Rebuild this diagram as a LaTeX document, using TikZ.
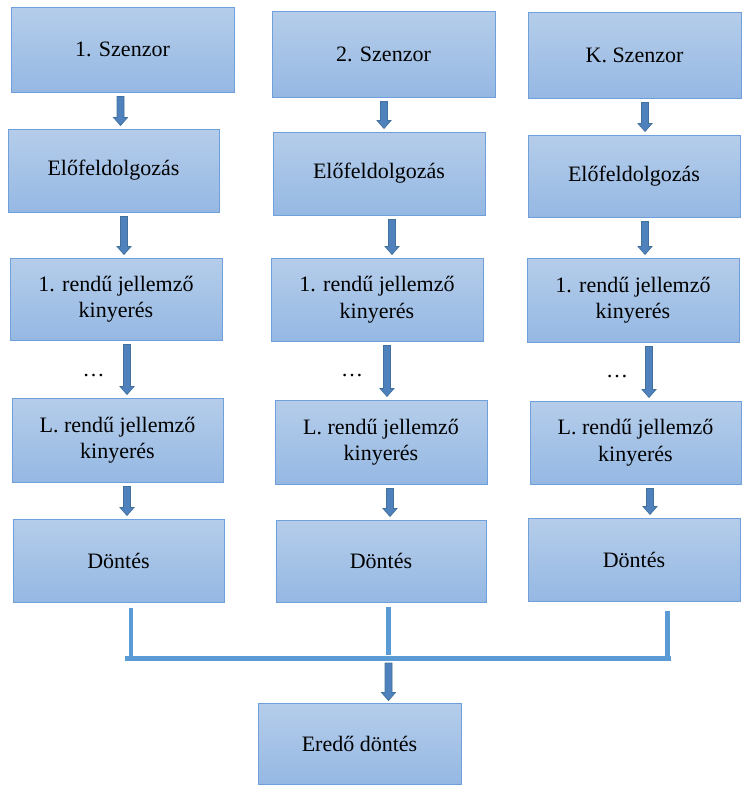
\documentclass[tikz,border=0pt]{standalone}
\usepackage{fontspec}
\setmainfont{Liberation Serif}
\usetikzlibrary{calc}

\definecolor{boxtop}{HTML}{B5CDEA}
\definecolor{boxbot}{HTML}{95B8E3}
\definecolor{boxedge}{HTML}{6FA0DC}
\definecolor{busblue}{HTML}{5B9BD5}
\definecolor{arrowfill}{HTML}{4F81BD}
\definecolor{arrowedge}{HTML}{41719C}

% block arrow: starts at #1, tip at the height of #2
\newcommand\barrow[2]{%
  \filldraw[barrow] let \p1=#1, \p2=#2 in
    (\x1-3.5pt,\y1) -- (\x1+3.5pt,\y1) -- (\x1+3.5pt,\y2+8pt) -- (\x1+7pt,\y2+8pt)
    -- (\x1,\y2) -- (\x1-7pt,\y2+8pt) -- (\x1-3.5pt,\y2+8pt) -- cycle;}

\begin{document}
\begin{tikzpicture}[x=1pt, y=-1pt,
        box/.style={draw=boxedge, line width=1pt, top color=boxtop, bottom color=boxbot,
                    align=center, inner sep=0pt, font=\fontsize{22}{26.5}\selectfont},
        sz/.style 2 args={minimum width=#1pt, minimum height=#2pt},
        barrow/.style={fill=arrowfill, draw=arrowedge, line width=0.7pt},
        busline/.style={draw=busblue, line width=4.5pt}
    ]
    \useasboundingbox (0,0) rectangle (742,785);

    % first sensor
    \node[box, sz={223}{85}] (a1) at (122.5,49.5) {1. Szenzor};
    \node[box, sz={211}{83}] (a2) at (113.5,170.5) {Előfeldolgozás};
    \node[box, sz={212}{82}] (a3) at (116,299) {1. rendű jellemző\\kinyerés};
    \node[box, sz={211}{84}] (a4) at (117.5,440) {L. rendű jellemző\\kinyerés};
    \node[box, sz={211}{83}] (a5) at (118.5,560.5) {Döntés};

    % second sensor
    \node[box, sz={223}{86}] (b1) at (383.5,54) {2. Szenzor};
    \node[box, sz={212}{83}] (b2) at (379,173.5) {Előfeldolgozás};
    \node[box, sz={212}{83}] (b3) at (377,299.5) {1. rendű jellemző\\kinyerés};
    \node[box, sz={212}{84}] (b4) at (381,442) {L. rendű jellemző\\kinyerés};
    \node[box, sz={210}{82}] (b5) at (381,561) {Döntés};

    % K-th sensor
    \node[box, sz={213}{86}] (c1) at (634.5,55) {K. Szenzor};
    \node[box, sz={212}{82}] (c2) at (634,176) {Előfeldolgozás};
    \node[box, sz={212}{84}] (c3) at (633,300) {1. rendű jellemző\\kinyerés};
    \node[box, sz={211}{83}] (c4) at (635.5,442.5) {L. rendű jellemző\\kinyerés};
    \node[box, sz={212}{83}] (c5) at (634,559.5) {Döntés};

    \node[box, sz={203}{81}] (e) at (359.5,743.5) {Eredő döntés};

    \node[inner sep=0pt, font=\fontsize{22}{26.5}\selectfont] (dots1) at (93.5,376) {…};
    \node[inner sep=0pt, font=\fontsize{22}{26.5}\selectfont] (dots2) at (352,376) {…};
    \node[inner sep=0pt, font=\fontsize{22}{26.5}\selectfont] (dots3) at (617,377) {…};

    \foreach \from/\to/\dx in {a1/a2/-2, a2/a3/10.5, a3/a4/11, a4/a5/9.5,
                               b1/b2/0.5, b2/b3/13, b3/b4/10, b4/b5/9,
                               c1/c2/10.5, c2/c3/11, c3/c4/16, c4/c5/14.5}
        \barrow{([xshift=\dx pt,yshift=-4pt]\from.south)}{([yshift=3pt]\to.north)};

    % joining the decisions
    \coordinate (busL) at (125,658.5);
    \coordinate (busR) at (671,658.5);
    \coordinate (busM) at (388.5,663);
    \draw[busline] (busL) -- (busR);
    \draw[busline] ([xshift=12.5pt,yshift=-5pt]a5.south) -- ([xshift=12.5pt,yshift=2pt]a5.south |- busL);
    \draw[busline] ([xshift=7.5pt,yshift=-4pt]b5.south) -- ([xshift=7.5pt,yshift=4pt]b5.south |- busL);
    \draw[busline] ([xshift=33.5pt,yshift=-9pt]c5.south) -- ([xshift=33.5pt,yshift=-2pt]c5.south |- busR);
    \barrow{(busM)}{([yshift=2pt]e.north)};
\end{tikzpicture}
\end{document}
